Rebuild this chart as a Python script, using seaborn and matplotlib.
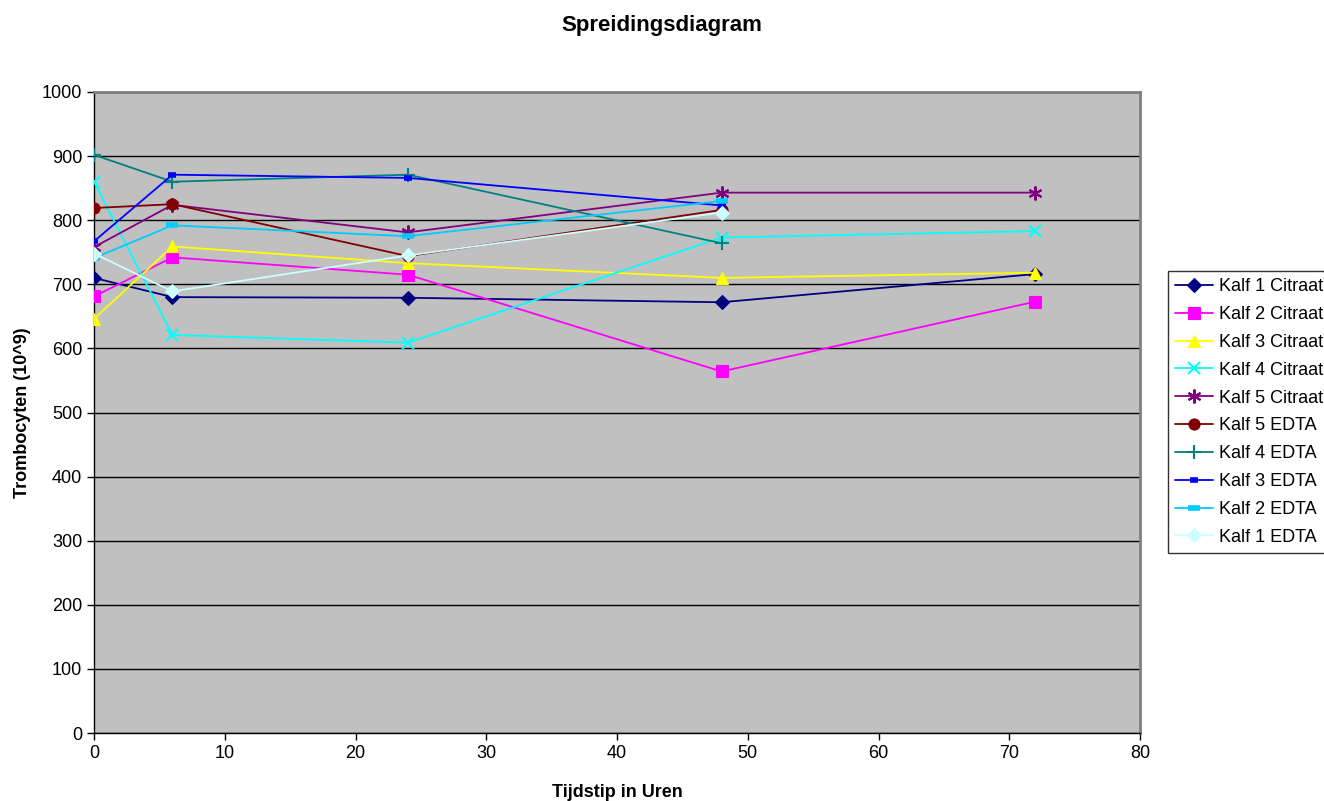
import matplotlib
matplotlib.use("Agg")
import matplotlib.pyplot as plt
import pandas as pd
import seaborn as sns

# hours after sampling
hours = [0, 6, 24, 48, 72]
hours_edta = [0, 6, 24, 48]

kalf1_citraat = [710, 680, 679, 672, 716]
kalf2_citraat = [681, 742, 715, 564, 673]
kalf3_citraat = [646, 759, 733, 710, 718]
kalf4_citraat = [860, 621, 609, 773, 783]
kalf5_citraat = [758, 824, 781, 843, 843]
kalf5_edta = [819, 825, 744, 816]
kalf4_edta = [902, 860, 871, 764]
kalf3_edta = [767, 871, 866, 823]
kalf2_edta = [741, 792, 775, 830]
kalf1_edta = [748, 689, 745, 812]

series = [
    ("Kalf 1 Citraat", hours, kalf1_citraat),
    ("Kalf 2 Citraat", hours, kalf2_citraat),
    ("Kalf 3 Citraat", hours, kalf3_citraat),
    ("Kalf 4 Citraat", hours, kalf4_citraat),
    ("Kalf 5 Citraat", hours, kalf5_citraat),
    ("Kalf 5 EDTA", hours_edta, kalf5_edta),
    ("Kalf 4 EDTA", hours_edta, kalf4_edta),
    ("Kalf 3 EDTA", hours_edta, kalf3_edta),
    ("Kalf 2 EDTA", hours_edta, kalf2_edta),
    ("Kalf 1 EDTA", hours_edta, kalf1_edta),
]

STYLE = {
    "Kalf 1 Citraat": dict(color="#000080", marker="D", ms=7),
    "Kalf 2 Citraat": dict(color="#FF00FF", marker="s", ms=8),
    "Kalf 3 Citraat": dict(color="#FFFF00", marker="^", ms=9),
    "Kalf 4 Citraat": dict(color="#00FFFF", marker="x", ms=9, mew=1.5),
    "Kalf 5 Citraat": dict(color="#800080", marker=(6, 2, 0), ms=10, mew=1.5),
    "Kalf 5 EDTA": dict(color="#800000", marker="o", ms=8),
    "Kalf 4 EDTA": dict(color="#008080", marker="+", ms=10, mew=1.5),
    "Kalf 3 EDTA": dict(color="#0000FF", marker="_", ms=6, mew=4),
    "Kalf 2 EDTA": dict(color="#00CCFF", marker="_", ms=9, mew=4),
    "Kalf 1 EDTA": dict(color="#CCFFFF", marker="D", ms=7),
}

sns.set_theme(style="white")
plt.rcParams["font.family"] = ["Liberation Sans", "DejaVu Sans"]
plt.rcParams["text.color"] = "black"
plt.rcParams["xtick.color"] = "black"
plt.rcParams["ytick.color"] = "black"
plt.rcParams["axes.labelcolor"] = "black"

fig = plt.figure(figsize=(13.24, 8.01), dpi=100)
ax = fig.add_axes([94 / 1324, 1 - 733 / 801, (1140 - 94) / 1324, (733 - 92) / 801])
ax.set_facecolor("#C0C0C0")

for name, xs, ys in series:
    st = STYLE[name]
    df = pd.DataFrame({"x": xs, "y": ys})
    sns.lineplot(data=df, x="x", y="y", ax=ax, color=st["color"], lw=1.3,
                 marker=st["marker"], markersize=st["ms"],
                 markeredgewidth=st.get("mew", 0.8), markeredgecolor=st["color"],
                 label=name, legend=False, zorder=3)

ax.set_xlim(0, 80)
ax.set_ylim(0, 1000)
ax.set_xticks(range(0, 81, 10))
ax.set_yticks(range(0, 1001, 100))
ax.tick_params(axis="both", labelsize=13, length=5, width=1, direction="out",
               color="black", bottom=True, left=True)
ax.yaxis.grid(True, color="black", lw=1)
ax.set_axisbelow(True)
for s in ["top", "right"]:
    ax.spines[s].set_color("#808080")
    ax.spines[s].set_linewidth(2)
for s in ["left", "bottom"]:
    ax.spines[s].set_color("black")
    ax.spines[s].set_linewidth(1)

ax.set_xlabel("Tijdstip in Uren", fontsize=13, fontweight="bold", labelpad=16)
ax.set_ylabel("Trombocyten (10^9)", fontsize=13, fontweight="bold", labelpad=8)
fig.suptitle("Spreidingsdiagram", fontsize=16, fontweight="bold", y=1 - 26 / 801, va="center")

handles, labels = ax.get_legend_handles_labels()
leg = fig.legend(handles, labels, loc="upper left",
                 bbox_to_anchor=(1168 / 1324, 1 - 271 / 801),
                 fontsize=13, frameon=True, fancybox=False, edgecolor="black",
                 handlelength=2.1, handletextpad=0.3, labelspacing=0.6,
                 borderpad=0.4, borderaxespad=0)
leg.get_frame().set_linewidth(1)

fig.savefig("out.png", dpi=100)
